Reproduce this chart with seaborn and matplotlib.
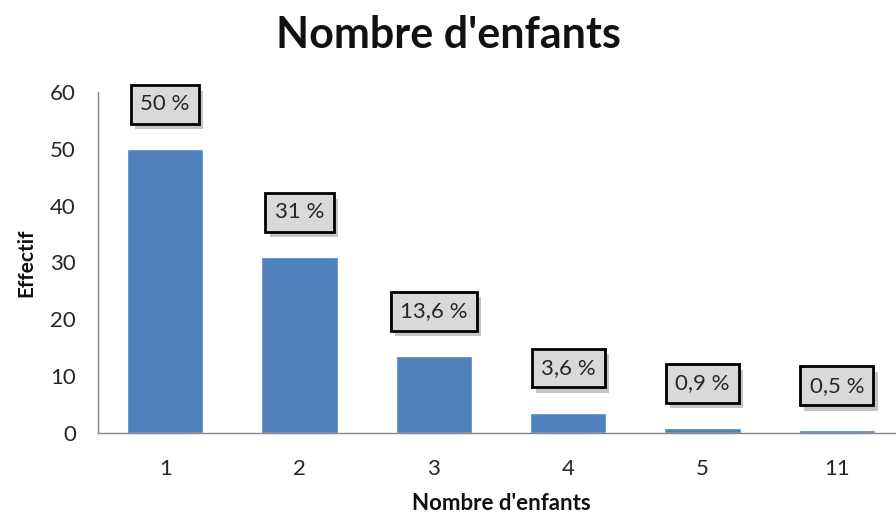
import matplotlib
matplotlib.use("Agg")
import matplotlib.pyplot as plt
import matplotlib.patheffects as pe
import seaborn as sns
import pandas as pd

categories = ["1", "2", "3", "4", "5", "11"]
effectif = [50, 31, 13.6, 3.6, 0.9, 0.5]
pct_labels = ["50 %", "31 %", "13,6 %", "3,6 %", "0,9 %", "0,5 %"]
y_ticks = [0, 10, 20, 30, 40, 50, 60]

sns.set_theme(style="white")
plt.rcParams["font.family"] = ["Lato", "DejaVu Sans"]

df = pd.DataFrame({"cat": categories, "val": effectif})

fig = plt.figure(figsize=(8.96, 5.21), dpi=100)
ax = fig.add_axes([98/896, 88/521, 806/896, 341/521])
sns.barplot(data=df, x="cat", y="val", color="#4F81BD", saturation=1,
            width=0.57, ax=ax, order=categories)

ax.set_xlim(-0.5, len(categories) - 0.5)
ax.set_ylim(0, 60)
ax.set_yticks(y_ticks)
ax.set_yticklabels([str(t) for t in y_ticks], fontsize=16, color="#262626")
ax.set_xticks(range(len(categories)))
ax.set_xticklabels(categories, fontsize=16, color="#262626")
ax.tick_params(axis="x", length=0, pad=19)
ax.tick_params(axis="y", length=0, pad=16)

for s in ["top", "right"]:
    ax.spines[s].set_visible(False)
for s in ["left", "bottom"]:
    ax.spines[s].set_color("#868686")
    ax.spines[s].set_linewidth(1.0)

ax.set_xlabel("Nombre d'enfants", fontsize=16, fontweight="bold", labelpad=10, color="#111111")
ax.set_ylabel("Effectif", fontsize=15, fontweight="bold", labelpad=10, color="#111111")
fig.suptitle("Nombre d'enfants", fontsize=31, fontweight="bold", y=0.972, va="top", color="#111111")

for i, (v, lab) in enumerate(zip(effectif, pct_labels)):
    t = ax.annotate(lab, xy=(i, v), xytext=(0, 32), textcoords="offset points",
                    ha="center", va="center", fontsize=16, color="#262626",
                    bbox=dict(boxstyle="square,pad=0.42", facecolor="#d9d9d9",
                              edgecolor="black", linewidth=2), zorder=5)
    t.get_bbox_patch().set_path_effects([
        pe.SimplePatchShadow(offset=(3, -4), shadow_rgbFace="#808080", alpha=0.45),
        pe.Normal(),
    ])

fig.savefig("out.png", dpi=100)
